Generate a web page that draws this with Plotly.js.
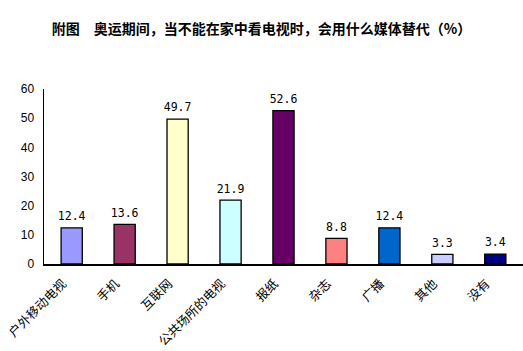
<!DOCTYPE html>
<html><head><meta charset="utf-8">
<script src="https://cdn.plot.ly/plotly-3.0.1.min.js"></script>
<style>html,body{margin:0;padding:0;background:#fff}#chart{width:523px;height:351px}</style>
</head><body><div id="chart"></div>
<script>
const categories = ["户外移动电视","手机","互联网","公共场所的电视","报纸","杂志","广播","其他","没有"];
const values = [12.4, 13.6, 49.7, 21.9, 52.6, 8.8, 12.4, 3.3, 3.4];
const barColors = ["#9999FF","#993366","#FFFFCC","#CCFFFF","#660066","#FF8080","#0066CC","#CCCCFF","#000080"];
const yTicks = [0,10,20,30,40,50,60];
const titleText = "附图　奥运期间，当不能在家中看电视时，会用什么媒体替代（%）";
const F = '"Noto Sans CJK SC", "Liberation Sans", sans-serif';

Plotly.newPlot('chart', [{
  type: 'bar',
  x: categories,
  y: values,
  marker: {color: barColors, line: {color: '#000', width: 1.3}},
  hoverinfo: 'none'
}, {
  type: 'scatter', mode: 'markers+text',
  x: categories, y: values,
  marker: {size: 6, opacity: 0},
  text: values.map(v => v.toFixed(1)),
  textposition: 'top center',
  cliponaxis: false,
  textfont: {family: '"DejaVu Sans Mono", monospace', size: 11.5, color: '#000'},
  hoverinfo: 'none'
}], {
  width: 523, height: 351,
  margin: {l: 44, r: 0, t: 89, b: 87},
  paper_bgcolor: '#fff', plot_bgcolor: '#fff',
  bargap: 0.6,
  showlegend: false,
  title: {text: '<b>' + titleText + '</b>', x: 0.5, xanchor: 'center', y: 0.917, yanchor: 'middle',
          font: {family: F, size: 14, color: '#000'}},
  xaxis: {
    tickangle: -45, showline: true, linecolor: '#000', linewidth: 1.5,
    showgrid: false, ticks: '', zeroline: false,
    ticklabelstandoff: 6, ticklabelshift: -9,
    tickfont: {family: F, size: 12.5, color: '#000'}
  },
  yaxis: {
    range: [0, 60], tickvals: yTicks, ticktext: yTicks.map(String),
    showline: true, linecolor: '#000', linewidth: 1.5, showgrid: false,
    ticks: '', zeroline: false, ticklabelstandoff: 6,
    tickfont: {family: '"Liberation Sans", sans-serif', size: 12, color: '#000'}
  }
}, {staticPlot: true});
</script></body></html>
